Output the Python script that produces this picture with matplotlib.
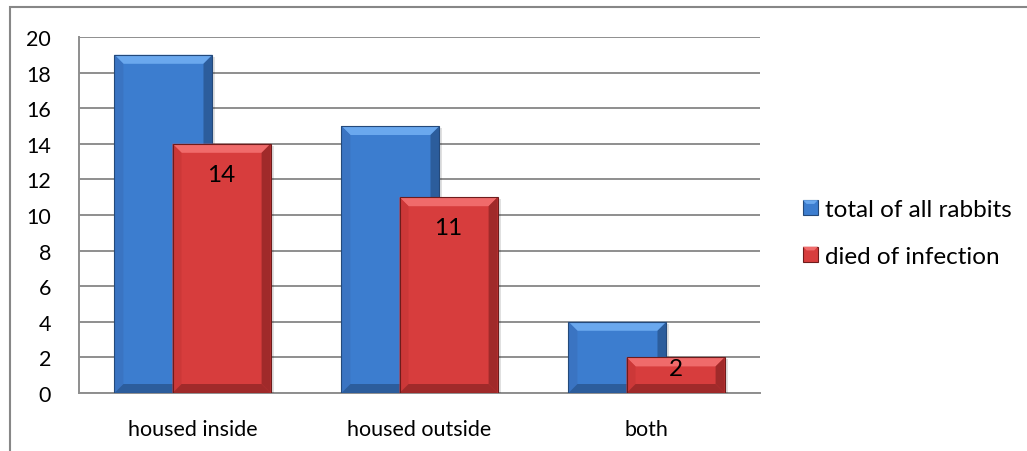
import matplotlib
matplotlib.use("Agg")
import matplotlib.pyplot as plt
from matplotlib.patches import Polygon, Rectangle, Patch
from matplotlib.legend_handler import HandlerPatch

plt.rcParams['font.family'] = ['Lato', 'DejaVu Sans']

categorias = ['housed inside', 'housed outside', 'both']
total_conejos = [19, 15, 4]
murieron = [14, 11, 2]
series = ['total of all rabbits', 'died of infection']

W, H, DPI = 1027, 452, 100
fig = plt.figure(figsize=(W / DPI, H / DPI), dpi=DPI)
ax = fig.add_axes([79 / W, 1 - 394 / H, (760 - 79) / W, (394 - 38) / H])

ax.set_xlim(-0.5, len(categorias) - 0.5)
ax.set_ylim(0, 20)

# pixeles por unidad de datos, para el biselado
px_x = (760 - 79) / len(categorias)
px_y = (394 - 38) / 20.0

ancho = 0.432
desfase = 0.128


def barra_biselada(x, altura, cara, claro, medio, oscuro, borde, z):
    x0, x1 = x - ancho / 2, x + ancho / 2
    bx, by = 9 / px_x, 9 / px_y
    # sombra suave a la derecha
    ax.add_patch(Rectangle((x1, 0), 3 / px_x, altura - 2 / px_y, facecolor='#000000',
                           alpha=0.12, edgecolor='none', zorder=z - 0.5))
    ax.add_patch(Rectangle((x0, 0), ancho, altura, facecolor=cara, edgecolor='none', zorder=z))
    ax.add_patch(Polygon([(x0, altura), (x1, altura), (x1 - bx, altura - by), (x0 + bx, altura - by)],
                         closed=True, facecolor=claro, edgecolor='none', zorder=z + 0.1))
    ax.add_patch(Polygon([(x0, 0), (x0, altura), (x0 + bx, altura - by), (x0 + bx, by)],
                         closed=True, facecolor=medio, edgecolor='none', zorder=z + 0.1))
    ax.add_patch(Polygon([(x1, 0), (x1, altura), (x1 - bx, altura - by), (x1 - bx, by)],
                         closed=True, facecolor=oscuro, edgecolor='none', zorder=z + 0.1))
    ax.add_patch(Polygon([(x0, 0), (x1, 0), (x1 - bx, by), (x0 + bx, by)],
                         closed=True, facecolor=oscuro, edgecolor='none', zorder=z + 0.1))
    ax.add_patch(Rectangle((x0, 0), ancho, altura, facecolor='none', edgecolor=borde,
                           linewidth=0.8, zorder=z + 0.2))


azul = dict(cara='#3c7dcf', claro='#6aa8ee', medio='#3a74c2', oscuro='#2c5d9c', borde='#24497a')
rojo = dict(cara='#d73d3d', claro='#f06b6b', medio='#cc3838', oscuro='#a02a2a', borde='#6e1c1c')

for i, (t, m) in enumerate(zip(total_conejos, murieron)):
    barra_biselada(i - desfase, t, z=3, **azul)
    barra_biselada(i + desfase, m, z=5, **rojo)
    bajada = min(1.7, m * 0.3)
    ax.text(i + desfase, m - bajada, str(m), ha='center', va='center',
            fontsize=17.5, color='black', zorder=8)

ax.set_yticks(range(0, 21, 2))
ax.set_xticks(range(len(categorias)))
ax.set_xticklabels(categorias)
ax.tick_params(axis='both', length=0, labelsize=15.5)
ax.tick_params(axis='y', pad=20)
ax.tick_params(axis='x', pad=19)
ax.yaxis.grid(True, color='#8e8e8e', linewidth=1.4, zorder=0)
ax.set_axisbelow(True)
for lado in ['top', 'right']:
    ax.spines[lado].set_visible(False)
for lado in ['left', 'bottom']:
    ax.spines[lado].set_color('#8e8e8e')
    ax.spines[lado].set_linewidth(1.4)


class CuadroBiselado(HandlerPatch):
    # cuadrito de leyenda con el borde superior mas claro
    def create_artists(self, legend, orig_handle, xdescent, ydescent, width, height, fontsize, trans):
        lado = min(width, height)
        x0, y0 = -xdescent, -ydescent + (height - lado) / 2
        b = lado * 0.25
        cara = Rectangle((x0, y0), lado, lado, facecolor=orig_handle.get_facecolor(),
                         edgecolor=orig_handle.get_edgecolor(), linewidth=0.8, transform=trans)
        tapa = Polygon([(x0, y0 + lado), (x0 + lado, y0 + lado), (x0 + lado - b, y0 + lado - b),
                        (x0 + b, y0 + lado - b)], closed=True, facecolor=orig_handle.claro,
                       edgecolor='none', transform=trans)
        return [cara, tapa]


manejadores = []
for nombre, estilo in zip(series, [azul, rojo]):
    p = Patch(facecolor=estilo['cara'], edgecolor=estilo['borde'], label=nombre)
    p.claro = estilo['claro']
    manejadores.append(p)

fig.legend(handles=manejadores, loc='center left', bbox_to_anchor=(781 / W, 1 - 234 / H),
           frameon=False, fontsize=17.5, handlelength=0.62, handleheight=0.62,
           handletextpad=0.3, labelspacing=1.05,
           handler_map={Patch: CuadroBiselado()})

# marco exterior del grafico
fig.add_artist(Rectangle((10 / W, -0.1), 1.2, 1 - 8 / H + 0.1, transform=fig.transFigure,
                         facecolor='none', edgecolor='#878787', linewidth=1.5))

fig.savefig('out.png', dpi=DPI)
